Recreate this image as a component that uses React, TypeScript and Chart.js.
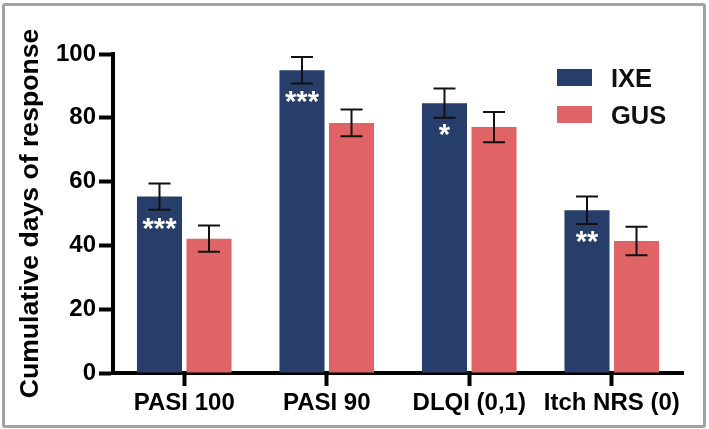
import React, { useEffect, useRef } from "react";
import { Chart, registerables } from "chart.js";

Chart.register(...registerables);

const categories = ["PASI 100", "PASI 90", "DLQI (0,1)", "Itch NRS (0)"];
const seriesNames = ["IXE", "GUS"];
const ixeValues = [55.3, 94.9, 84.6, 51.0];
const ixeErrors = [4.1, 4.15, 4.6, 4.3];
const gusValues = [42.1, 78.4, 77.1, 41.4];
const gusErrors = [4.1, 4.2, 4.75, 4.45];
const ixeSignificance = ["***", "***", "*", "**"];
const yMin = 0;
const yMax = 100;
const yStep = 20;
const yTitle = "Cumulative days of response";

const FONT = "Arial, 'Liberation Sans', Helvetica, sans-serif";
const NAVY = "#283e6a";
const RED = "#e06466";

const overlayPlugin = {
  id: "overlay",
  afterDatasetsDraw(chart: any) {
    const ctx = chart.ctx;
    const yScale = chart.scales.y;
    const area = chart.chartArea;
    // error bars
    chart.data.datasets.forEach((ds: any, di: number) => {
      const meta = chart.getDatasetMeta(di);
      meta.data.forEach((bar: any, i: number) => {
        const v = ds.data[i];
        const e = ds.errors[i];
        const yt = yScale.getPixelForValue(v + e);
        const yb = yScale.getPixelForValue(v - e);
        ctx.save();
        ctx.strokeStyle = "#111111";
        ctx.lineWidth = 2;
        ctx.beginPath();
        ctx.moveTo(bar.x, yt);
        ctx.lineTo(bar.x, yb);
        ctx.moveTo(bar.x - 11, yt);
        ctx.lineTo(bar.x + 11, yt);
        ctx.moveTo(bar.x - 11, yb);
        ctx.lineTo(bar.x + 11, yb);
        ctx.stroke();
        ctx.restore();
      });
    });
    // significance stars
    const meta0 = chart.getDatasetMeta(0);
    meta0.data.forEach((bar: any, i: number) => {
      const s = ixeSignificance[i];
      if (!s) return;
      ctx.save();
      ctx.fillStyle = "#ffffff";
      ctx.font = `bold 29px ${FONT}`;
      ctx.textAlign = "center";
      ctx.textBaseline = "alphabetic";
      ctx.fillText(s, bar.x, bar.y + 41);
      ctx.restore();
    });
    // legend
    chart.data.datasets.forEach((ds: any, di: number) => {
      const bx = area.right - 126;
      const by = area.top + 15 + di * 37;
      ctx.save();
      ctx.fillStyle = ds.backgroundColor;
      ctx.fillRect(bx, by, 35, 17);
      ctx.fillStyle = "#111111";
      ctx.font = `bold 25.5px ${FONT}`;
      ctx.textAlign = "left";
      ctx.textBaseline = "alphabetic";
      ctx.fillText(ds.label, area.right - 72, by + 17.5);
      ctx.restore();
    });
  },
};

export default function App() {
  const canvasRef = useRef<HTMLCanvasElement | null>(null);

  useEffect(() => {
    if (!canvasRef.current) return;
    const chart = new Chart(canvasRef.current, {
      type: "bar",
      data: {
        labels: categories,
        datasets: [
          {
            label: seriesNames[0],
            data: ixeValues,
            errors: ixeErrors,
            backgroundColor: NAVY,
            categoryPercentage: 0.695,
            barPercentage: 0.91,
          } as any,
          {
            label: seriesNames[1],
            data: gusValues,
            errors: gusErrors,
            backgroundColor: RED,
            categoryPercentage: 0.695,
            barPercentage: 0.91,
          } as any,
        ],
      },
      options: {
        animation: false,
        responsive: false,
        devicePixelRatio: 1,
        layout: { padding: { top: 54, right: 26, bottom: 0, left: 0 } },
        plugins: {
          legend: { display: false },
          tooltip: { enabled: false },
        },
        scales: {
          x: {
            afterFit: (s: any) => {
              s.height = 56;
            },
            border: { display: true, color: "#000000", width: 4 },
            grid: {
              display: true,
              drawOnChartArea: false,
              offset: false,
              color: "#000000",
              tickLength: 13,
              tickWidth: 4,
            },
            ticks: {
              color: "#000000",
              padding: 3,
              font: { family: FONT, size: 24, weight: "bold" },
              maxRotation: 0,
              autoSkip: false,
            },
          },
          y: {
            min: yMin,
            max: yMax,
            afterFit: (s: any) => {
              s.width = 113;
            },
            border: { display: true, color: "#000000", width: 4 },
            grid: {
              display: true,
              drawOnChartArea: false,
              color: "#000000",
              tickLength: 14,
              tickWidth: 4,
            },
            ticks: {
              stepSize: yStep,
              color: "#000000",
              padding: 3,
              font: { family: FONT, size: 24, weight: "bold" },
            },
            title: {
              display: true,
              text: yTitle,
              color: "#000000",
              font: { family: FONT, size: 26.6, weight: "bold" },
              padding: { top: 15, bottom: 0 },
            },
          },
        },
      } as any,
      plugins: [overlayPlugin],
    });
    return () => chart.destroy();
  }, []);

  return (
    <div
      style={{
        position: "fixed",
        left: 0,
        top: 0,
        width: 709,
        height: 429,
        background: "#ffffff",
        overflow: "hidden",
      }}
    >
      <canvas
        ref={canvasRef}
        width={709}
        height={429}
        style={{ position: "absolute", left: 0, top: 0, width: 709, height: 429 }}
      />
      <div
        style={{
          position: "absolute",
          left: 2,
          top: 3,
          width: 704,
          height: 425,
          boxSizing: "border-box",
          border: "3px solid #a3a3a3",
          borderRadius: 3,
          pointerEvents: "none",
        }}
      />
    </div>
  );
}
